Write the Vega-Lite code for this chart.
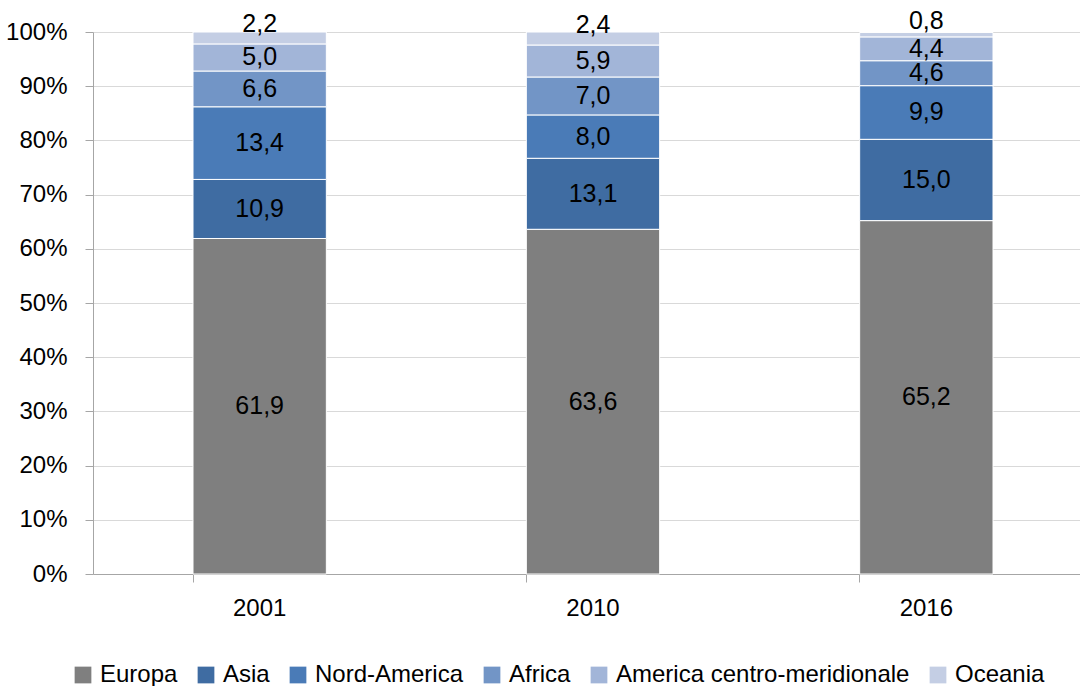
{
  "$schema": "https://vega.github.io/schema/vega-lite/v6.json",
  "autosize": "none",
  "width": 1000,
  "height": 542,
  "padding": {"left": 93, "top": 32, "right": 0, "bottom": 112},
  "background": "white",
  "config": {
    "locale": {"number": {"decimal": ",", "thousands": ".", "grouping": [3], "currency": ["", " €"]}},
    "font": "Liberation Sans",
    "view": {"stroke": null},
    "axis": {"labelFont": "Liberation Sans", "labelFontSize": 24, "labelColor": "black", "domainColor": "#a6a6a6", "tickColor": "#a6a6a6", "gridColor": "#d9d9d9", "tickSize": 8, "title": null}
  },
  "data": {"values": [
    {"anno": "2001", "area": "Europa", "v": 61.9},
    {"anno": "2001", "area": "Asia", "v": 10.9},
    {"anno": "2001", "area": "Nord-America", "v": 13.4},
    {"anno": "2001", "area": "Africa", "v": 6.6},
    {"anno": "2001", "area": "America centro-meridionale", "v": 5.0},
    {"anno": "2001", "area": "Oceania", "v": 2.2},
    {"anno": "2010", "area": "Europa", "v": 63.6},
    {"anno": "2010", "area": "Asia", "v": 13.1},
    {"anno": "2010", "area": "Nord-America", "v": 8.0},
    {"anno": "2010", "area": "Africa", "v": 7.0},
    {"anno": "2010", "area": "America centro-meridionale", "v": 5.9},
    {"anno": "2010", "area": "Oceania", "v": 2.4},
    {"anno": "2016", "area": "Europa", "v": 65.2},
    {"anno": "2016", "area": "Asia", "v": 15.0},
    {"anno": "2016", "area": "Nord-America", "v": 9.9},
    {"anno": "2016", "area": "Africa", "v": 4.6},
    {"anno": "2016", "area": "America centro-meridionale", "v": 4.4},
    {"anno": "2016", "area": "Oceania", "v": 0.8}
  ]},
  "transform": [
    {"calculate": "indexof(['Europa','Asia','Nord-America','Africa','America centro-meridionale','Oceania'], datum.area)", "as": "k"},
    {"stack": "v", "groupby": ["anno"], "sort": [{"field": "k", "order": "ascending"}], "as": ["v0", "v1"]},
    {"calculate": "(datum.v0 + datum.v1) / 2", "as": "vm"}
  ],
  "encoding": {
    "x": {"field": "anno", "type": "nominal", "scale": {"paddingInner": 0.6, "paddingOuter": 0.3},
      "axis": {"labelAngle": 0, "bandPosition": 0, "labelPadding": 14, "grid": false, "labelBound": false, "labelFlush": false}}
  },
  "layer": [
    {
      "mark": {"type": "bar", "stroke": "white", "strokeWidth": 1},
      "encoding": {
        "y": {"field": "v0", "type": "quantitative",
          "scale": {"domain": [0, 100], "nice": false},
          "axis": {"values": [0,10,20,30,40,50,60,70,80,90,100], "labelExpr": "datum.value + '%'", "grid": true, "labelPadding": 18, "domain": true}},
        "y2": {"field": "v1"},
        "color": {"field": "area", "type": "nominal",
          "sort": ["Europa", "Asia", "Nord-America", "Africa", "America centro-meridionale", "Oceania"],
          "scale": {"domain": ["Europa", "Asia", "Nord-America", "Africa", "America centro-meridionale", "Oceania"],
            "range": ["#7f7f7f", "#3f6ca2", "#4a7bb7", "#7295c6", "#a2b5d8", "#c4cee4"]},
          "legend": {"orient": "none", "legendX": -22, "legendY": 631, "direction": "horizontal", "columns": 6, "title": null,
            "symbolType": "square", "symbolSize": 280, "symbolStrokeWidth": 0, "labelFontSize": 24, "labelFont": "Liberation Sans", "labelColor": "black", "columnPadding": 16, "labelOffset": 5, "labelLimit": 400}}
      }
    },
    {
      "transform": [{"filter": "datum.area != 'Oceania'"}],
      "mark": {"type": "text", "fontSize": 25, "font": "Liberation Sans", "color": "black", "baseline": "middle"},
      "encoding": {
        "y": {"field": "vm", "type": "quantitative"},
        "text": {"field": "v", "type": "quantitative", "format": ".1f"}
      }
    },
    {
      "transform": [{"filter": "datum.area == 'Oceania'"}],
      "mark": {"type": "text", "fontSize": 25, "font": "Liberation Sans", "color": "black", "baseline": "middle", "dy": -14},
      "encoding": {
        "y": {"field": "vm", "type": "quantitative"},
        "text": {"field": "v", "type": "quantitative", "format": ".1f"}
      }
    }
  ]
}
